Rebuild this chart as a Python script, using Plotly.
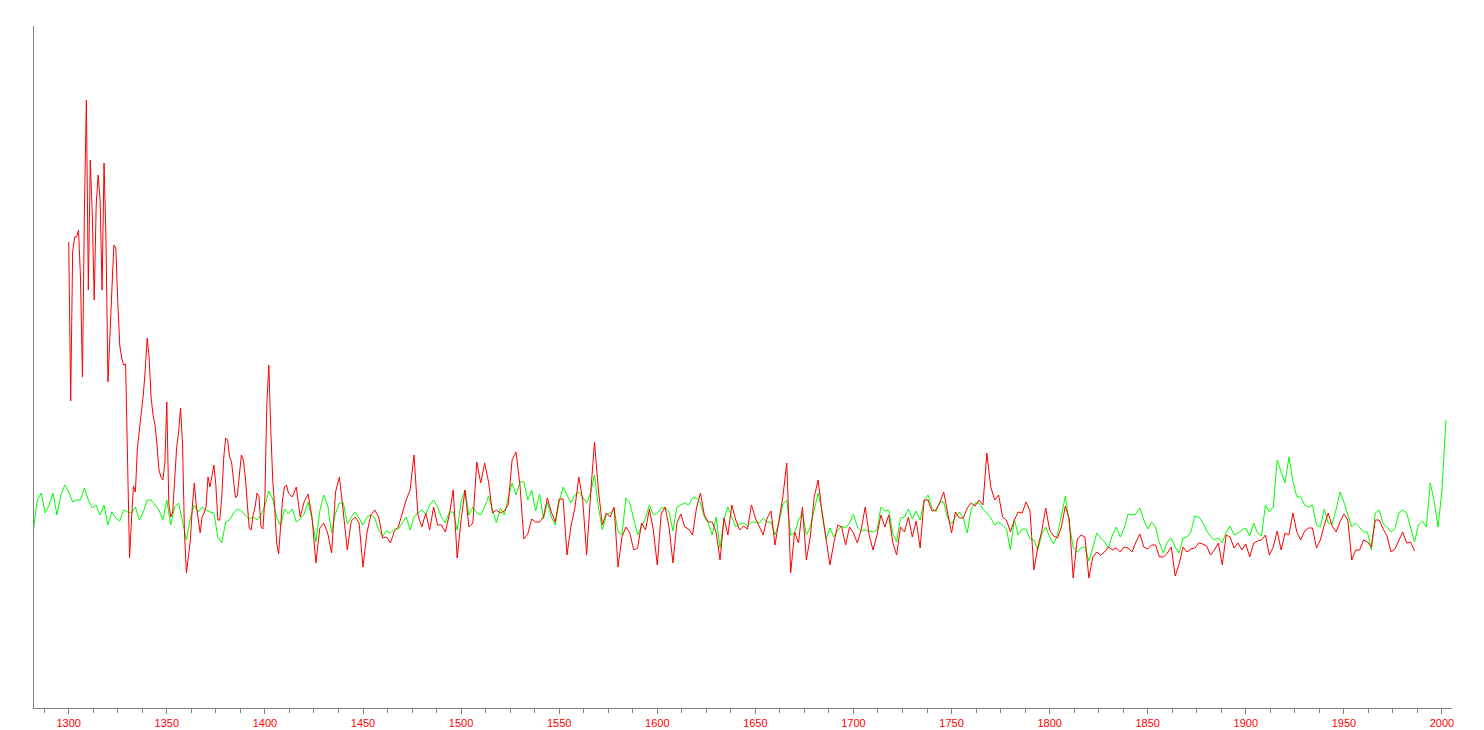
import plotly.graph_objects as go

# ---- data (index units) ----
# red series: annual 1300-1412, then every 2 years 1414-1986
red_early_years = list(range(1300, 1413))
red_early = [
    358, 199, 348, 363, 363, 370, 322, 223, 390, 500,
    310, 440, 385, 300, 395, 425, 400, 310, 437, 360,
    218, 257, 310, 355, 352, 298, 255, 242, 235, 236,
    145, 42, 80, 114, 108, 152, 170, 188, 205, 230,
    262, 242, 202, 185, 175, 155, 130, 123, 120, 137,
    198, 97, 83, 88, 118, 152, 168, 192, 157, 67,
    27, 43, 60, 93, 117, 95, 80, 67, 83, 87,
    93, 123, 113, 125, 135, 115, 80, 80, 103, 142,
    162, 160, 143, 138, 120, 102, 105, 123, 145, 140,
    123, 97, 72, 70, 85, 93, 107, 103, 73, 71,
    103, 197, 235, 170, 120, 92, 57, 46, 73, 100,
    113, 115, 107,
]
red_late_years = list(range(1414, 1987, 2))
red_late = [
    103, 113, 83, 98, 106,
    83, 37, 72, 77, 67,
    47, 108, 123, 87, 50,
    79, 83, 77, 33, 67,
    85, 90, 83, 62, 63,
    57, 69, 73, 87, 100,
    110, 145, 85, 73, 87,
    70, 93, 75, 75, 68,
    85, 110, 42, 80, 110,
    73, 77, 138, 117, 137,
    118, 87, 90, 87, 89,
    95, 140, 148, 115, 61,
    66, 81, 78, 78, 83,
    102, 88, 78, 101, 101,
    45, 74, 92, 123, 100,
    45, 105, 158, 110, 75,
    87, 83, 93, 33, 63,
    73, 67, 50, 52, 77,
    70, 91, 70, 35, 86,
    93, 73, 37, 77, 86,
    73, 71, 65, 92, 107,
    85, 78, 78, 68, 40,
    82, 65, 95, 80, 70,
    74, 71, 95, 82, 73,
    65, 82, 89, 55, 81,
    103, 137, 27, 68, 57,
    93, 40, 63, 103, 120,
    87, 62, 35, 57, 75,
    73, 55, 73, 67, 57,
    71, 93, 65, 50, 65,
    85, 73, 85, 58, 45,
    73, 68, 83, 63, 79,
    52, 100, 100, 89, 90,
    97, 108, 88, 67, 88,
    82, 82, 92, 97, 94,
    100, 95, 147, 113, 100,
    105, 83, 80, 68, 80,
    88, 87, 98, 89, 30,
    53, 69, 92, 70, 64,
    62, 73, 94, 81, 22,
    60, 65, 63, 22, 43,
    48, 45, 48, 53, 50,
    52, 48, 53, 52, 48,
    58, 66, 53, 51, 55,
    55, 43, 43, 47, 53,
    24, 36, 53, 48, 51,
    52, 57, 56, 54, 45,
    50, 57, 35, 65, 63,
    52, 57, 50, 56, 43,
    57, 59, 60, 65, 45,
    53, 69, 50, 67, 65,
    87, 68, 60, 69, 72,
    72, 52, 60, 75, 87,
    74, 68, 78, 86, 80,
    40, 50, 50, 60, 58,
    53, 80, 80, 71, 64,
    48, 51, 59, 68, 57,
    58, 49,
]

# green series: every 2 years 1282-2002
green_years = list(range(1282, 2003, 2))
green_vals = [
    70, 100, 107, 87, 95,
    107, 85, 105, 115, 108,
    98, 100, 100, 112, 100,
    92, 95, 85, 95, 75,
    88, 82, 79, 90, 88,
    87, 93, 80, 88, 100,
    100, 95, 90, 80, 100,
    75, 93, 97, 78, 60,
    82, 95, 88, 93, 90,
    88, 87, 63, 57, 78,
    80, 87, 91, 89, 85,
    81, 83, 80, 85, 94,
    109, 101, 83, 74, 91,
    86, 91, 78, 81, 86,
    98, 81, 58, 89, 105,
    95, 67, 87, 97, 97,
    76, 83, 88, 81, 75,
    83, 85, 82, 70, 64,
    69, 67, 71, 71, 77,
    83, 70, 83, 87, 90,
    86, 95, 100, 93, 83,
    77, 88, 88, 70, 98,
    110, 85, 93, 87, 85,
    93, 104, 90, 77, 92,
    85, 102, 117, 105, 118,
    118, 100, 110, 89, 106,
    81, 98, 83, 75, 98,
    113, 105, 97, 105, 108,
    103, 97, 107, 125, 93,
    70, 85, 87, 91, 68,
    65, 102, 97, 82, 65,
    73, 82, 95, 85, 87,
    92, 92, 88, 69, 93,
    95, 97, 95, 102, 102,
    97, 83, 77, 65, 83,
    52, 81, 93, 82, 73,
    76, 77, 74, 78, 78,
    77, 82, 78, 78, 65,
    77, 96, 100, 65, 67,
    80, 87, 65, 73, 91,
    107, 89, 61, 72, 63,
    70, 74, 72, 77, 86,
    73, 69, 70, 69, 68,
    70, 93, 89, 90, 67,
    58, 82, 83, 91, 81,
    89, 80, 99, 105, 92,
    88, 98, 98, 82, 76,
    83, 88, 82, 67, 91,
    97, 97, 91, 87, 82,
    75, 78, 75, 71, 50,
    81, 65, 71, 71, 61,
    60, 50, 66, 73, 63,
    56, 65, 84, 104, 76,
    53, 48, 52, 53, 39,
    52, 67, 62, 58, 52,
    65, 73, 63, 72, 86,
    85, 86, 92, 80, 71,
    78, 73, 57, 47, 58,
    62, 53, 47, 62, 63,
    68, 84, 83, 78, 69,
    64, 60, 62, 57, 68,
    74, 65, 67, 70, 72,
    64, 77, 67, 64, 95,
    88, 93, 140, 128, 117,
    143, 119, 103, 103, 95,
    93, 95, 75, 73, 91,
    77, 76, 90, 108, 98,
    85, 73, 77, 72, 68,
    68, 50, 87, 90, 76,
    73, 68, 71, 87, 90,
    87, 73, 58, 75, 79,
    73, 117, 99, 73, 110,
    180,
]

major_ticks = list(range(1300, 2001, 50))

red_years = red_early_years + red_late_years
red_vals = red_early + red_late

fig = go.Figure()
fig.add_trace(go.Scatter(x=green_years, y=green_vals, mode="lines",
                         line=dict(color="#00ff00", width=1), hoverinfo="skip"))
fig.add_trace(go.Scatter(x=red_years, y=red_vals, mode="lines",
                         line=dict(color="#ff0000", width=1), hoverinfo="skip"))

fig.update_layout(
    width=1484, height=730,
    margin=dict(l=34, r=32, t=26, b=22),
    paper_bgcolor="white", plot_bgcolor="white",
    showlegend=False,
)
fig.update_xaxes(
    range=[1282.3, 2005.1], showgrid=False, zeroline=False, automargin=False,
    showline=True, linecolor="#808080", linewidth=1,
    ticks="outside", ticklen=5, tickcolor="#808080", tickwidth=1,
    tickmode="array", tickvals=major_ticks,
    ticktext=[str(t) for t in major_ticks],
    tickfont=dict(family="Liberation Sans, Arial, sans-serif", size=11, color="#ff0000"),
    minor=dict(tick0=1300, dtick=12.5, ticks="outside", ticklen=4,
               tickcolor="#808080", tickwidth=1, showgrid=False),
)
fig.update_yaxes(
    range=[-108, 574], showgrid=False, zeroline=False, automargin=False,
    showline=True, linecolor="#808080", linewidth=1,
    showticklabels=False, ticks="",
)

fig.write_html(
    "out.html",
    config={"displayModeBar": False, "responsive": False},
    post_script="document.body.style.margin='0px';document.body.style.overflow='hidden';",
)
